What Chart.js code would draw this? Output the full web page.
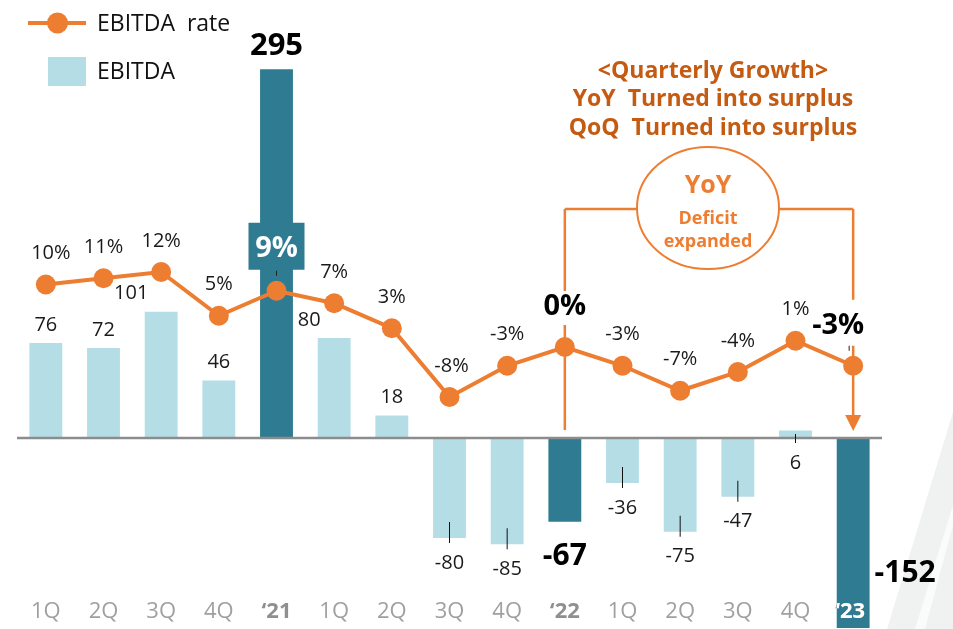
<!DOCTYPE html>
<html>
<head>
<meta charset="utf-8">
<script src="https://cdn.jsdelivr.net/npm/chart.js@4.4.1/dist/chart.umd.min.js"></script>
<style>
  html, body { margin:0; padding:0; background:#fff; }
  canvas { display:block; }
</style>
</head>
<body>
<canvas id="chart" width="953" height="629"></canvas>
<script>
// —––– Datos ––––
const quarters   = ['1Q','2Q','3Q','4Q','‘21','1Q','2Q','3Q','4Q','‘22','1Q','2Q','3Q','4Q','‘23'];
const ebitda     = [76, 72, 101, 46, 295, 80, 18, -80, -85, -67, -36, -75, -47, 6, -152];
const ebitdaRate = [10, 11, 12, 5, 9, 7, 3, -8, -3, 0, -3, -7, -4, 1, -3];
const yearIdx    = [4, 9, 14];   // annual columns

const ORANGE = '#ED7D31', DARK_OR = '#C55A11',
      LIGHT = '#B4DDE6', TEAL = '#2F7B91', FONT = '"Open Sans", "Noto Sans", sans-serif';

function txt(ctx, s, x, y, size, o = {}) {
  ctx.save();
  ctx.font = `${o.bold ? 'bold ' : ''}${size}px ${FONT}`;
  ctx.fillStyle = o.color || '#1a1a1a';
  ctx.textAlign = o.align || 'center';
  ctx.textBaseline = 'middle';
  ctx.fillText(s, x, y);
  ctx.restore();
}
function vline(ctx, x, y1, y2, color, w) {
  ctx.save(); ctx.strokeStyle = color; ctx.lineWidth = w;
  ctx.beginPath(); ctx.moveTo(x, y1); ctx.lineTo(x, y2); ctx.stroke(); ctx.restore();
}

const overlay = {
  id: 'overlay',
  beforeDraw(chart) {
    // faint decoration bottom right
    const { ctx } = chart;
    ctx.save();
    ctx.fillStyle = '#f0f2f2';
    ctx.beginPath(); ctx.moveTo(887, 629); ctx.lineTo(953, 412); ctx.lineTo(953, 629); ctx.closePath(); ctx.fill();
    ctx.fillStyle = '#fafbfb';
    ctx.beginPath(); ctx.moveTo(915, 629); ctx.lineTo(953, 505); ctx.lineTo(953, 525); ctx.lineTo(925, 629); ctx.closePath(); ctx.fill();
    ctx.restore();
  },
  afterDatasetsDraw(chart) {
    const { ctx, chartArea, scales: { x, y } } = chart;
    const bars = chart.getDatasetMeta(1).data, pts = chart.getDatasetMeta(0).data;
    const zero = y.getPixelForValue(0);

    // eje cero
    ctx.save(); ctx.strokeStyle = '#8c8c8c'; ctx.lineWidth = 2.5;
    ctx.beginPath(); ctx.moveTo(chartArea.left, zero); ctx.lineTo(chartArea.right, zero); ctx.stroke(); ctx.restore();

    // corchete YoY
    const xa = x.getPixelForValue(9), xb = x.getPixelForValue(14), top = 209;
    const cx = (xa + xb) / 2 - 1, cy = 208;
    ctx.save(); ctx.strokeStyle = ORANGE; ctx.lineWidth = 2.5;
    ctx.beginPath(); ctx.moveTo(xa, top); ctx.lineTo(xb, top); ctx.stroke(); ctx.restore();
    vline(ctx, xa, top, pts[9].y - 56, ORANGE, 2.5);
    vline(ctx, xa, pts[9].y - 22, zero - 8, ORANGE, 2.5);
    vline(ctx, xb, top, pts[14].y - 66, ORANGE, 2.5);
    vline(ctx, xb, pts[14].y - 20, zero - 22, ORANGE, 2.5);
    ctx.save(); ctx.fillStyle = ORANGE;
    ctx.beginPath(); ctx.moveTo(xb - 8, zero - 23); ctx.lineTo(xb + 8, zero - 23); ctx.lineTo(xb, zero - 7); ctx.closePath(); ctx.fill(); ctx.restore();
    ctx.save(); ctx.fillStyle = '#fff'; ctx.strokeStyle = ORANGE; ctx.lineWidth = 2;
    ctx.beginPath(); ctx.ellipse(cx, cy, 71, 61, 0, 0, Math.PI * 2); ctx.fill(); ctx.stroke(); ctx.restore();
    txt(ctx, 'YoY', cx, 186, 25, { bold: true, color: ORANGE });
    txt(ctx, 'Deficit', cx, 219, 18, { bold: true, color: ORANGE });
    txt(ctx, 'expanded', cx, 242, 18, { bold: true, color: ORANGE });

    txt(ctx, '<Quarterly Growth>', 713, 71, 23, { bold: true, color: DARK_OR });
    txt(ctx, 'YoY  Turned into surplus', 713, 99, 23, { bold: true, color: DARK_OR });
    txt(ctx, 'QoQ  Turned into surplus', 713, 128, 23, { bold: true, color: DARK_OR });

    // etiquetas de tasa
    const rateShift = { 0: 5, 7: 2 };
    ebitdaRate.forEach((v, i) => {
      const p = pts[i], s = v + '%';
      if (i === 4) {
        ctx.save(); ctx.fillStyle = TEAL; ctx.fillRect(p.x - 28, p.y - 68, 56, 47); ctx.restore();
        txt(ctx, s, p.x, p.y - 42, 29, { bold: true, color: '#fff' });
        vline(ctx, p.x, p.y - 20, p.y - 15, '#222', 1);
      } else if (i === 9) {
        txt(ctx, s, p.x, p.y - 40, 29, { bold: true, color: '#000' });
      } else if (i === 14) {
        txt(ctx, s, p.x - 15, p.y - 40, 29, { bold: true, color: '#000' });
        vline(ctx, p.x - 4, p.y - 20, p.y - 15, '#222', 1);
      } else {
        txt(ctx, s, p.x + (rateShift[i] || 0), p.y - 31, 20);
      }
    });

    // etiquetas de barras
    const barShift = { 2: -30, 5: -25 };
    ebitda.forEach((v, i) => {
      const b = bars[i];
      if (i === 4) return txt(ctx, String(v), b.x, b.y - 23, 31, { bold: true, color: '#000' });
      if (i === 9) return txt(ctx, String(v), b.x, b.y + 35, 30, { bold: true, color: '#000' });
      if (i === 14) return txt(ctx, String(v), b.x + 52, zero + 135, 30, { bold: true, color: '#000' });
      if (v > 0 && i !== 13) return txt(ctx, String(v), b.x + (barShift[i] || 0), b.y - 18, 20);
      const ly = (v > 0 ? zero : b.y) + 25;
      if (v > 0) vline(ctx, b.x, zero - 4, zero + 5, '#111', 1);
      else vline(ctx, b.x, ly - 41, ly - 20, '#111', 1);
      txt(ctx, String(v), b.x, ly, 20);
    });

    // eje x
    quarters.forEach((q, i) => {
      const cxq = x.getPixelForValue(i) - (i === 14 ? 3 : 0), bold = yearIdx.includes(i);
      txt(ctx, q, cxq, 612, 22, { bold, color: bold ? '#8f8f8f' : '#a0a0a0' });
    });
    const last = bars[14];
    ctx.save();
    ctx.beginPath(); ctx.rect(last.x - last.width / 2, zero, last.width, chartArea.bottom - zero); ctx.clip();
    txt(ctx, quarters[14], x.getPixelForValue(14) - 3, 612, 22, { bold: true, color: '#fff' });
    ctx.restore();

    // leyenda
    ctx.save(); ctx.strokeStyle = ORANGE; ctx.lineWidth = 4;
    ctx.beginPath(); ctx.moveTo(28, 23); ctx.lineTo(86, 23); ctx.stroke();
    ctx.fillStyle = ORANGE; ctx.beginPath(); ctx.arc(57.5, 23, 10.5, 0, Math.PI * 2); ctx.fill();
    ctx.fillStyle = LIGHT; ctx.fillRect(48, 57, 38, 29);
    ctx.restore();
    txt(ctx, 'EBITDA  rate', 97, 24, 23, { align: 'left', color: '#111' });
    txt(ctx, 'EBITDA', 97, 72, 23, { align: 'left', color: '#111' });
  }
};

new Chart(document.getElementById('chart'), {
  data: {
    labels: quarters,
    datasets: [
      { type: 'line', label: 'EBITDA rate', data: ebitdaRate, yAxisID: 'rate',
        borderColor: ORANGE, backgroundColor: ORANGE, borderWidth: 4,
        pointRadius: 10, pointBackgroundColor: ORANGE, pointBorderWidth: 0,
        tension: 0, order: 0, clip: false },
      { type: 'bar', label: 'EBITDA', data: ebitda, yAxisID: 'y',
        backgroundColor: ebitda.map((v, i) => yearIdx.includes(i) ? TEAL : LIGHT),
        barPercentage: 0.57, categoryPercentage: 1, order: 1 }
    ]
  },
  options: {
    responsive: false, animation: false,
    layout: { autoPadding: false, padding: { left: 17, right: 71, top: 0, bottom: 0 } },
    plugins: { legend: { display: false }, tooltip: { enabled: false } },
    scales: {
      x: { display: false },
      y: { display: false, min: -152.8, max: 350.4 },
      rate: { display: false, position: 'right', min: -45.12, max: 55.52 }
    }
  },
  plugins: [overlay]
});
</script>
</body>
</html>
